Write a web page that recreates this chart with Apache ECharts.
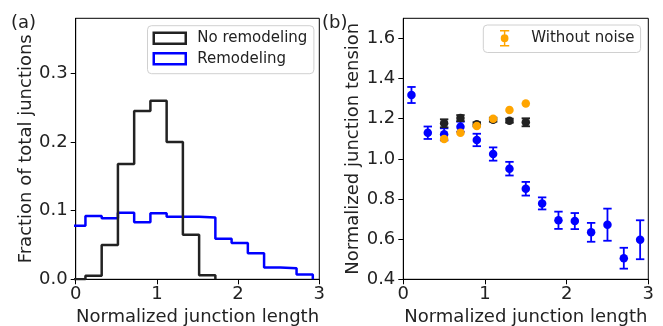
<!DOCTYPE html>
<html>
<head>
<meta charset="utf-8">
<script src="https://cdn.jsdelivr.net/npm/echarts@6/dist/echarts.min.js"></script>
<style>
html,body{margin:0;padding:0;background:#fff;}
#c{width:663px;height:326px;}
</style>
</head>
<body>
<div id="c"></div>
<script>
// ---- Data ----
// (a) histogram bin edges and fractions
const histEdges = [-0.08, 0.12, 0.32, 0.52, 0.72, 0.92, 1.12, 1.32, 1.52, 1.72, 1.92, 2.12, 2.32, 2.52, 2.72, 2.92];
const noRemodeling = [0, 0.005, 0.050, 0.168, 0.245, 0.260, 0.200, 0.065, 0.006];
const remodeling = [0.078, 0.092, 0.089, 0.097, 0.083, 0.096, 0.091, 0.091, 0.090, 0.059, 0.053, 0.038, 0.017, 0.016, 0.007];

// (b) tension vs length
const blueX = [0.1, 0.3, 0.5, 0.7, 0.9, 1.1, 1.3, 1.5, 1.7, 1.9, 2.1, 2.3, 2.5, 2.7, 2.9];
const blueY = [1.318, 1.130, 1.122, 1.160, 1.094, 1.024, 0.951, 0.851, 0.778, 0.694, 0.690, 0.634, 0.672, 0.505, 0.597];
const blueErr = [0.040, 0.031, 0.030, 0.025, 0.031, 0.033, 0.034, 0.034, 0.030, 0.043, 0.040, 0.047, 0.080, 0.052, 0.097];

const blackX = [0.5, 0.7, 0.9, 1.1, 1.3, 1.5];
const blackY = [1.177, 1.203, 1.172, 1.195, 1.190, 1.182];
const blackErr = [0.020, 0.015, 0.010, 0.010, 0.010, 0.020];

const orangeX = [0.5, 0.7, 0.9, 1.1, 1.3, 1.5];
const orangeY = [1.099, 1.130, 1.163, 1.200, 1.243, 1.276];

const xTicks = [0, 1, 2, 3];
const yTicksA = [0, 0.1, 0.2, 0.3];
const yTicksB = [0.4, 0.6, 0.8, 1.0, 1.2, 1.4, 1.6];

// ---- Build ----
function stepPoints(edges, vals) {
  const pts = [[edges[0], 0]];
  for (let i = 0; i < vals.length; i++) {
    pts.push([edges[i], vals[i]]);
    pts.push([edges[i + 1], vals[i]]);
  }
  pts.push([edges[vals.length], 0]);
  return pts;
}
function errData(xs, ys, es) {
  return xs.map((x, i) => [x, ys[i] - es[i], ys[i] + es[i]]);
}
function pairs(xs, ys) { return xs.map((x, i) => [x, ys[i]]); }

const FONT = 'DejaVu Sans';
function errRender(color) {
  return function (params, api) {
    const x = api.value(0);
    const lo = api.coord([x, api.value(1)]);
    const hi = api.coord([x, api.value(2)]);
    const hw = 4.2;
    const st = { stroke: color, lineWidth: 1.8 };
    return {
      type: 'group',
      children: [
        { type: 'line', shape: { x1: lo[0], y1: lo[1], x2: hi[0], y2: hi[1] }, style: st },
        { type: 'line', shape: { x1: lo[0] - hw, y1: lo[1], x2: lo[0] + hw, y2: lo[1] }, style: st },
        { type: 'line', shape: { x1: hi[0] - hw, y1: hi[1], x2: hi[0] + hw, y2: hi[1] }, style: st }
      ]
    };
  };
}

const axisCommon = {
  axisLine: { show: true, onZero: false, lineStyle: { color: '#000', width: 1 } },
  axisTick: { show: true, length: 5, lineStyle: { color: '#000', width: 1 } },
  splitLine: { show: false },
  nameTextStyle: { fontFamily: FONT, fontSize: 18, color: '#222' },
  nameLocation: 'middle'
};
function xAxis(gi) {
  return Object.assign({}, axisCommon, {
    type: 'value', gridIndex: gi, min: 0, max: 3, interval: 1,
    name: 'Normalized junction length', nameGap: 26,
    axisTick: Object.assign({}, axisCommon.axisTick, { customValues: xTicks }),
    axisLabel: { customValues: xTicks, fontFamily: FONT, fontSize: 18, color: '#222', margin: 6,
      formatter: v => String(v) }
  });
}

const ERR_ICON = 'path://M0,0H9.5V1.6H0Z M4,0H5.5V17H4Z M0,15.4H9.5V17H0Z M0.75,8.5A4,4 0 1,1 8.75,8.5A4,4 0 1,1 0.75,8.5Z';

const option = {
  animation: false,
  backgroundColor: '#fff',
  textStyle: { fontFamily: FONT },
  title: [
    { text: '(a)', left: 11, top: 14, padding: 0, textStyle: { fontFamily: FONT, fontSize: 18, fontWeight: 'normal', color: '#222' } },
    { text: '(b)', left: 322, top: 14, padding: 0, textStyle: { fontFamily: FONT, fontSize: 18, fontWeight: 'normal', color: '#222' } }
  ],
  grid: [
    { left: 75.7, top: 18.3, width: 243.6, height: 261, outerBoundsMode: 'none', containLabel: false,
      show: true, borderColor: '#000', borderWidth: 1, backgroundColor: 'transparent' },
    { left: 403.3, top: 18.3, width: 245, height: 261, outerBoundsMode: 'none', containLabel: false,
      show: true, borderColor: '#000', borderWidth: 1, backgroundColor: 'transparent' }
  ],
  xAxis: [xAxis(0), xAxis(1)],
  yAxis: [
    Object.assign({}, axisCommon, {
      type: 'value', gridIndex: 0, min: 0, max: 0.38,
      name: 'Fraction of total junctions', nameGap: 39,
      axisTick: Object.assign({}, axisCommon.axisTick, { customValues: yTicksA }),
      axisLabel: { customValues: yTicksA, fontFamily: FONT, fontSize: 18, color: '#222', margin: 8,
        formatter: v => v.toFixed(1) }
    }),
    Object.assign({}, axisCommon, {
      type: 'value', gridIndex: 1, min: 0.4, max: 1.7,
      name: 'Normalized junction tension', nameGap: 35,
      axisTick: Object.assign({}, axisCommon.axisTick, { customValues: yTicksB }),
      axisLabel: { customValues: yTicksB, fontFamily: FONT, fontSize: 18, color: '#222', margin: 8,
        formatter: v => v.toFixed(1) }
    })
  ],
  legend: [
    {
      left: 147.5, top: 25.7, orient: 'vertical', itemGap: 5.5,
      itemWidth: 32, itemHeight: 11,
      padding: [5, 6.5, 7.5, 5],
      backgroundColor: 'rgba(255,255,255,0.85)', borderColor: '#d0d0d0', borderWidth: 1, borderRadius: 4,
      textStyle: { fontFamily: FONT, fontSize: 15, lineHeight: 15, color: '#222', padding: [0, 0, 0, 6.5] },
      data: [
        { name: 'No remodeling', icon: 'rect', itemStyle: { color: 'transparent', borderColor: '#222', borderWidth: 2.5 } },
        { name: 'Remodeling', icon: 'rect', itemStyle: { color: 'transparent', borderColor: '#0000ff', borderWidth: 2.5 } }
      ]
    },
    {
      left: 483.3, top: 25, orient: 'vertical',
      itemWidth: 10, itemHeight: 16.5,
      padding: [5, 6, 6, 16.7],
      backgroundColor: 'rgba(255,255,255,0.85)', borderColor: '#d0d0d0', borderWidth: 1, borderRadius: 4,
      textStyle: { fontFamily: FONT, fontSize: 15, lineHeight: 16.5, color: '#222', padding: [0, 0, 0, 16.7] },
      data: [{ name: 'Without noise', icon: ERR_ICON, itemStyle: { color: '#ffa500' } }]
    }
  ],
  series: [
    { name: 'Remodeling', type: 'line', xAxisIndex: 0, yAxisIndex: 0, data: stepPoints(histEdges, remodeling),
      showSymbol: false, symbol: 'none', clip: true, lineStyle: { color: '#0000ff', width: 2.5 }, itemStyle: { color: '#0000ff' } },
    { name: 'No remodeling', type: 'line', xAxisIndex: 0, yAxisIndex: 0, data: stepPoints(histEdges, noRemodeling),
      showSymbol: false, symbol: 'none', clip: true, lineStyle: { color: '#222', width: 2.5 }, itemStyle: { color: '#222' } },

    { name: 'Remodeling err', type: 'custom', xAxisIndex: 1, yAxisIndex: 1, data: errData(blueX, blueY, blueErr),
      encode: { x: 0, y: [1, 2] }, renderItem: errRender('#0000ff'), z: 3 },
    { name: 'Remodeling pts', type: 'scatter', xAxisIndex: 1, yAxisIndex: 1, data: pairs(blueX, blueY),
      symbolSize: 8.5, itemStyle: { color: '#0000ff', opacity: 1 }, z: 3 },

    { name: 'No remodeling err', type: 'custom', xAxisIndex: 1, yAxisIndex: 1, data: errData(blackX, blackY, blackErr),
      encode: { x: 0, y: [1, 2] }, renderItem: errRender('#222'), z: 4 },
    { name: 'No remodeling pts', type: 'scatter', xAxisIndex: 1, yAxisIndex: 1, data: pairs(blackX, blackY),
      symbolSize: 8.5, itemStyle: { color: '#222', opacity: 1 }, z: 4 },

    { name: 'Without noise', type: 'scatter', xAxisIndex: 1, yAxisIndex: 1, data: pairs(orangeX, orangeY),
      symbolSize: 8.5, itemStyle: { color: '#ffa500', opacity: 1 }, z: 5 }
  ]
};

const chart = echarts.init(document.getElementById('c'), null, { renderer: 'canvas' });
chart.setOption(option);
</script>
</body>
</html>
